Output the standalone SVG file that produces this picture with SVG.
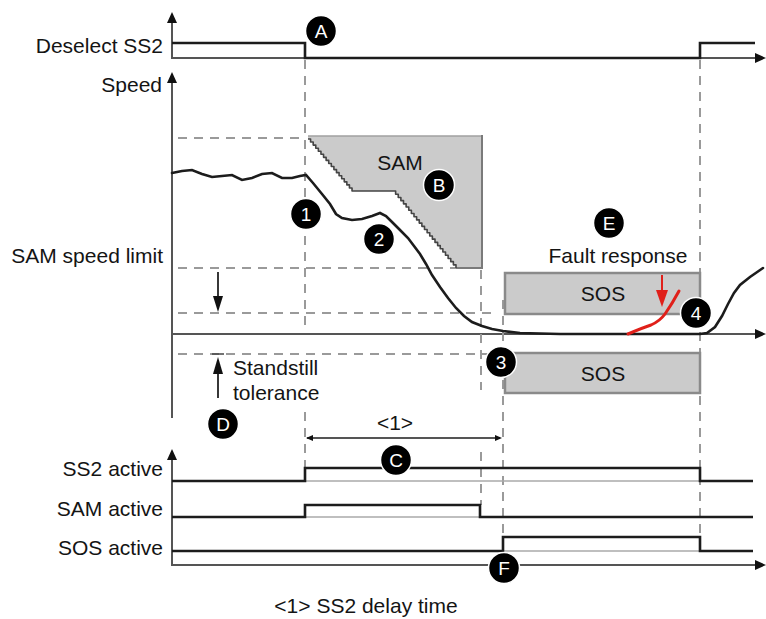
<svg xmlns="http://www.w3.org/2000/svg" width="766" height="619" viewBox="0 0 766 619">
<defs>
<style>
text{font-family:"Liberation Sans",Arial,sans-serif;font-size:21px;fill:#141414}
.lbl{text-anchor:end}
.ax{stroke:#555;stroke-width:2;fill:none}
.thin{stroke:#aaa;stroke-width:1.5;fill:none}
.sig{stroke:#1c1c1c;stroke-width:2.6;fill:none;stroke-linejoin:miter}
.dash{stroke:#9a9a9a;stroke-width:2;stroke-dasharray:9 7;fill:none}
.box{fill:#cbcbcb;stroke:#8a8a8a;stroke-width:2.5}
.badge circle{fill:#000;stroke:#fff;stroke-width:1.5}
.badge text{fill:#fff;font-size:19px;text-anchor:middle}
.ah{fill:#111}
</style>
</defs>
<rect width="766" height="619" fill="#fff"/>

<g id="axes">
  <path class="ax" d="M172,22 V58 H756"/>
  <polygon class="ah" points="167,23 177,23 172,12"/>
  <polygon class="ah" points="755,53 755,63 766,58"/>
  <path class="ax" d="M172,82 V418"/>
  <polygon class="ah" points="167,83 177,83 172,72"/>
  <path class="ax" d="M172,334 H756"/>
  <polygon class="ah" points="755,329 755,339 766,334"/>
  <path class="ax" d="M172,459 V565 H756"/>
  <polygon class="ah" points="167,460 177,460 172,449"/>
  <polygon class="ah" points="755,560 755,570 766,565"/>
</g>

<g id="guides">
  <path class="dash" d="M305,60 V330"/>
  <path class="dash" d="M305,412 V468"/>
  <path class="dash" d="M700,60 V540"/>
  <path class="dash" d="M481,270 V390"/>
  <path class="dash" d="M481,452 V505"/>
  <path class="dash" d="M503,300 V537"/>
  <path class="dash" d="M178,138 H305"/>
  <path class="dash" d="M178,268 H482"/>
  <path class="dash" d="M178,313 H497"/>
  <path class="dash" d="M178,354 H490"/>
</g>

<g id="sam-region">
  <path d="M308,139 h2.59v3.06h2.59v3.06h2.59v3.06h2.59v3.06h2.59v3.06h2.59v3.06h2.59v3.06h2.59v3.06h2.59v3.06h2.59v3.06h2.59v3.06h2.59v3.06h2.59v3.06h2.59v3.06h2.59v3.06h2.59v3.06h2.59v3.06 H393 h2.625v3.21h2.625v3.21h2.625v3.21h2.625v3.21h2.625v3.21h2.625v3.21h2.625v3.21h2.625v3.21h2.625v3.21h2.625v3.21h2.625v3.21h2.625v3.21h2.625v3.21h2.625v3.21h2.625v3.21h2.625v3.21h2.625v3.21h2.625v3.21h2.625v3.21h2.625v3.21h2.625v3.21h2.625v3.21h2.625v3.21h2.625v3.21 H482 V136 H308 Z" fill="#cbcbcb" stroke="none"/>
  <path d="M308,136 H482" stroke="#a0a0a0" stroke-width="1.5" fill="none"/>
  <path d="M482,135 V268 H456" stroke="#7a7a7a" stroke-width="2" fill="none"/>
  <path d="M308,139 h2.59v3.06h2.59v3.06h2.59v3.06h2.59v3.06h2.59v3.06h2.59v3.06h2.59v3.06h2.59v3.06h2.59v3.06h2.59v3.06h2.59v3.06h2.59v3.06h2.59v3.06h2.59v3.06h2.59v3.06h2.59v3.06h2.59v3.06 H393 h2.625v3.21h2.625v3.21h2.625v3.21h2.625v3.21h2.625v3.21h2.625v3.21h2.625v3.21h2.625v3.21h2.625v3.21h2.625v3.21h2.625v3.21h2.625v3.21h2.625v3.21h2.625v3.21h2.625v3.21h2.625v3.21h2.625v3.21h2.625v3.21h2.625v3.21h2.625v3.21h2.625v3.21h2.625v3.21h2.625v3.21h2.625v3.21" stroke="#444" stroke-width="1.6" fill="none" stroke-linejoin="round"/>
  <text x="400" y="170" text-anchor="middle">SAM</text>
</g>

<g id="sos-upper">
  <rect class="box" x="505" y="273" width="195" height="41"/>
  <text x="603" y="301" text-anchor="middle">SOS</text>
</g>
<g id="sos-lower">
  <rect class="box" x="505" y="353" width="195" height="40"/>
  <text x="603" y="381" text-anchor="middle">SOS</text>
</g>

<g id="connectors">
  <path class="sig" d="M172,43 H305 V58 H700 V43 H755"/>
  <path class="sig" stroke-linejoin="round" stroke-linecap="round" d="M172,173 L182,171 L192,170 L202,174 L212,177 L222,176 L232,175 L242,180 L252,178 L262,174 L272,173 L282,178 L292,178 L300,176 L306,175 L313,183 L322,194 L330,204 L336,214 L342,218 L352,220 L362,219 L372,216 L380,213 L386,216 L392,222 L400,230 L408,238 L414,246 L420,254 L426,264 L432,275 L440,287 L448,298 L456,308 L464,316 L472,322 L482,326 L492,329 L503,331 L520,333 L560,334 L700,334 L707,333 L715,327 L722,316 L728,304 L734,293 L740,285 L750,277 L763,268"/>
  <path d="M628,334 Q642,328 651,325 Q660,321 665,314 Q672,304 679,291" stroke="#e0201a" stroke-width="3" fill="none" stroke-linecap="round"/>
  <path d="M662,275 V293" stroke="#e0201a" stroke-width="2"/>
  <polygon points="656,290 668,290 662,307" fill="#e0201a"/>
  <path d="M218,272 V298" stroke="#222" stroke-width="1.8"/>
  <polygon class="ah" points="213,296 223,296 218,312"/>
  <path d="M212,354 H224" stroke="#444" stroke-width="1.5"/>
  <path d="M218,398 V372" stroke="#222" stroke-width="1.8"/>
  <polygon class="ah" points="213,374 223,374 218,357"/>
  <path d="M307,438 H500" stroke="#555" stroke-width="2"/>
  <polygon class="ah" points="306,438 313,435 313,441"/>
  <polygon class="ah" points="502,438 495,435 495,441"/>
  <path class="thin" d="M305,481 H700"/>
  <path class="sig" d="M172,481 H305 V468 H700 V481 H753"/>
  <path class="thin" d="M305,517 H480"/>
  <path class="sig" d="M172,517 H305 V505 H480 V517 H753"/>
  <path class="thin" d="M503,551 H700"/>
  <path class="sig" d="M172,551 H503 V537 H700 V551 H753"/>
</g>

<g id="labels">
  <text class="lbl" x="163" y="53">Deselect SS2</text>
  <text class="lbl" x="162" y="92">Speed</text>
  <text class="lbl" x="163" y="263">SAM speed limit</text>
  <text x="233" y="375">Standstill</text>
  <text x="233" y="400">tolerance</text>
  <text x="395" y="430" text-anchor="middle">&lt;1&gt;</text>
  <text x="618" y="263" text-anchor="middle">Fault response</text>
  <text class="lbl" x="163" y="476">SS2 active</text>
  <text class="lbl" x="163" y="516">SAM active</text>
  <text class="lbl" x="163" y="555">SOS active</text>
  <text x="366" y="613" text-anchor="middle">&lt;1&gt; SS2 delay time</text>
</g>

<g id="badge-A" class="badge"><circle cx="321" cy="31" r="15.5"/><text x="321" y="38">A</text></g>
<g id="badge-B" class="badge"><circle cx="439" cy="185" r="15.5"/><text x="439" y="192">B</text></g>
<g id="badge-C" class="badge"><circle cx="396" cy="460" r="15.5"/><text x="396" y="467">C</text></g>
<g id="badge-D" class="badge"><circle cx="223" cy="424" r="15.5"/><text x="223" y="431">D</text></g>
<g id="badge-E" class="badge"><circle cx="609" cy="223" r="15.5"/><text x="609" y="230">E</text></g>
<g id="badge-F" class="badge"><circle cx="504" cy="568" r="15.5"/><text x="504" y="575">F</text></g>
<g id="badge-1" class="badge"><circle cx="306" cy="214" r="15.5"/><text x="306" y="221">1</text></g>
<g id="badge-2" class="badge"><circle cx="379" cy="239" r="15.5"/><text x="379" y="246">2</text></g>
<g id="badge-3" class="badge"><circle cx="501" cy="362" r="15.5"/><text x="501" y="369">3</text></g>
<g id="badge-4" class="badge"><circle cx="696" cy="313" r="15.5"/><text x="696" y="320">4</text></g>
</svg>
